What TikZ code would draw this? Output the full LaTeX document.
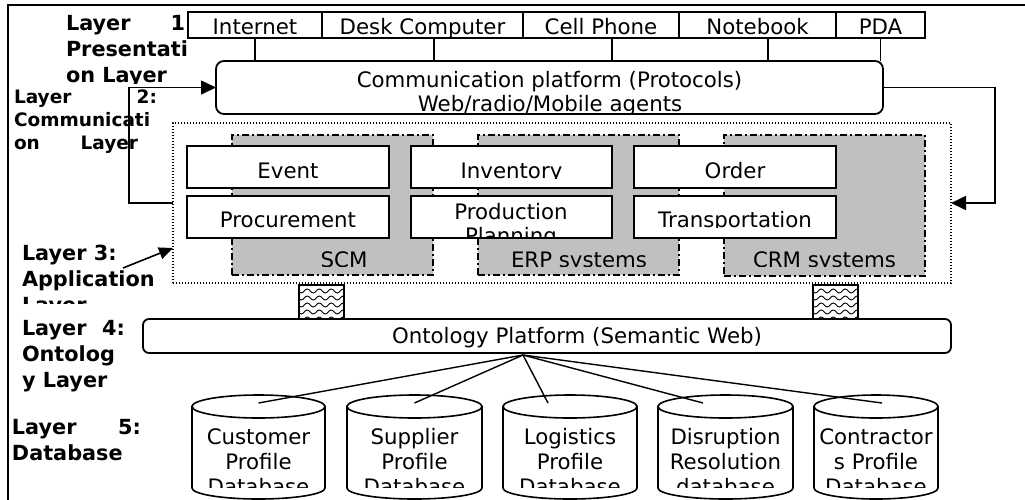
\documentclass[tikz,border=0pt]{standalone}
\usepackage{fontspec}
\setmainfont{DejaVu Sans}
\usetikzlibrary{arrows.meta,decorations.pathmorphing}
\definecolor{sysgray}{RGB}{192,192,192}

% database drum: #1 name, #2 left x, #3 right x
\newcommand\dbdrum[3]{%
  \pgfmathsetmacro\drumcx{(#2+#3)/2}%
  \pgfmathsetmacro\drumrx{(#3-#2)/2}%
  \filldraw[drum] (#2,406.5) -- (#2,488)
    arc[start angle=180, end angle=360, x radius=\drumrx pt, y radius=11pt]
    -- (#3,406.5) -- cycle;
  \filldraw[drum] (\drumcx,406.5) ellipse[x radius=\drumrx pt, y radius=11.5pt];
  \coordinate (#1) at (\drumcx,406.5);
}

\begin{document}
\begin{tikzpicture}[x=1pt,y=-1pt,
  every node/.style={inner sep=0pt, outer sep=0pt},
  txt/.style={font=\fontsize{21.3}{24}\selectfont, anchor=base},
  lbl/.style={font=\fontsize{20.8}{24}\selectfont\bfseries, anchor=base west},
  lblsmall/.style={font=\fontsize{18.5}{22}\selectfont\bfseries, anchor=base west},
  frame/.style={line width=1.5pt},
  devbox/.style={draw, line width=1.6pt, minimum height=26pt, text height=18pt, text depth=0pt,
    font=\fontsize{21.3}{24}\selectfont},
  platform/.style={draw, fill=white, line width=1.8pt},
  appzone/.style={draw, line width=1.3pt, dash pattern=on 1.3pt off 1.7pt},
  sysarea/.style={draw, fill=sysgray, line width=1.6pt, dash pattern=on 7pt off 3pt on 2pt off 3pt},
  modbox/.style={draw, fill=white, line width=1.8pt, minimum height=42pt},
  hatchbox/.style={draw, line width=1.6pt, minimum width=45pt, minimum height=35pt},
  wave/.style={line width=0.9pt, decorate, decoration={snake, amplitude=2pt, segment length=12pt}},
  link/.style={line width=1.4pt},
  arr/.style={line width=1.6pt, -{Triangle[length=15pt,width=14pt]}},
  arrsmall/.style={line width=1.6pt, -{Triangle[length=14pt,width=12pt]}},
  drum/.style={draw, fill=white, line width=1.6pt}
]
\useasboundingbox (0,0) rectangle (1025,499);

% outer frame
\draw[frame] (8,505) -- (8,5) -- (1030,5);

% ---- layer 1: access devices
\node[devbox, minimum width=134pt] (internet) at (255,25)   {Internet};
\node[devbox, minimum width=201pt] (desk)     at (422.5,25) {Desk Computer};
\node[devbox, minimum width=156pt] (cell)     at (601,25)   {Cell Phone};
\node[devbox, minimum width=157pt] (notebook) at (757.5,25) {Notebook};
\node[devbox, minimum width=89pt]  (pda)      at (880.5,25) {PDA};

% ---- layer 2: communication platform
\node[platform, rounded corners=8pt, minimum width=667pt, minimum height=53pt] (comm) at (549.5,87.5) {};
\node[txt] (commA) at (549.5,87.5) {Communication platform (Protocols)};
\begin{scope}
  \clip (216,61) rectangle (883,114);
  \node[txt] (commB) at (550,111.5) {Web/radio/Mobile agents};
\end{scope}

\draw[link] (internet.south) -- (internet.south |- comm.north);
\draw[link] ([xshift=11.5pt]desk.south) -- ([xshift=11.5pt]desk.south |- comm.north);
\draw[link] ([xshift=11pt]cell.south) -- ([xshift=11pt]cell.south |- comm.north);
\draw[link] ([xshift=10.5pt]notebook.south) -- ([xshift=10.5pt]notebook.south |- comm.north);
\draw[link] (pda.south) -- (pda.south |- comm.north);

% ---- layer 3: application systems
\node[appzone, minimum width=778pt, minimum height=160pt] (app) at (562,203) {};
\node[sysarea, minimum width=201pt, minimum height=140pt] (scm) at (332.5,205) {};
\node[sysarea, minimum width=201pt, minimum height=140pt] (erp) at (578.5,205) {};
\node[sysarea, minimum width=201pt, minimum height=141pt] (crm) at (824.5,205.5) {};

\node[modbox, minimum width=202pt] (event)   at (288,167)   {};
\node[modbox, minimum width=201pt] (invent)  at (511.5,167) {};
\node[modbox, minimum width=202pt] (order)   at (735,167)   {};
\node[modbox, minimum width=202pt] (procure) at (288,217)   {};
\node[modbox, minimum width=201pt] (product) at (511.5,217) {};
\node[modbox, minimum width=202pt] (transp)  at (735,217)   {};

\begin{scope}
  \clip (0,140) rectangle (1025,178);
  \node[txt] (eventT)  at (288,178.5)   {Event};
  \node[txt] (inventT) at (511.5,178.5) {Inventory};
  \node[txt] (orderT)  at (735,178.5)   {Order};
\end{scope}
\begin{scope}
  \clip (0,190) rectangle (1025,227);
  \node[txt] (procureT) at (288,227.5) {Procurement};
  \node[txt] (transpT)  at (735,227.5) {Transportation};
\end{scope}
\node[txt] (productT) at (511,219) {Production};
\begin{scope}
  \clip (411,190) rectangle (612,237);
  \node[txt] (planT) at (511,243) {Planning};
\end{scope}
\begin{scope}
  \clip (0,240) rectangle (1025,266);
  \node[txt] (scmT) at (344,267)   {SCM};
  \node[txt] (erpT) at (579,267)   {ERP systems};
  \node[txt] (crmT) at (824.5,267) {CRM systems};
\end{scope}

\draw[arr] (app.west) -- ++(-44,0) |- (comm.west);
\draw[arr] (comm.east) -- ++(112,0) |- (app.east);

% ---- layer 4: ontology platform
\node[hatchbox] (hatchA) at (321.5,302.5) {};
\node[hatchbox] (hatchB) at (835.5,302.5) {};
\foreach \h in {hatchA,hatchB}{
  \begin{scope}
    \clip (\h.south west) rectangle (\h.north east);
    \foreach \yy in {291,298,305,312,319}
      \draw[wave] ([xshift=-30pt]\h.center |- 0,\yy) -- ([xshift=30pt]\h.center |- 0,\yy);
  \end{scope}
  \node[hatchbox] at (\h.center) {};
}

\node[platform, rounded corners=6pt, minimum width=808pt, minimum height=34pt] (onto) at (547,336) {};
\node[txt] (ontoT) at (577,343.5) {Ontology Platform (Semantic Web)};

% ---- layer 5: databases
\dbdrum{cust}{192}{325}
\dbdrum{supp}{347}{482}
\dbdrum{logi}{503}{637}
\dbdrum{disr}{658}{793}
\dbdrum{cont}{814}{938}

\node[txt] (custA) at (258.5,444) {Customer};
\node[txt] (custB) at (258.5,469) {Profile};
\node[txt] (suppA) at (414.5,444) {Supplier};
\node[txt] (suppB) at (414.5,469) {Profile};
\node[txt] (logiA) at (570,444)   {Logistics};
\node[txt] (logiB) at (570,469)   {Profile};
\node[txt] (disrA) at (725.5,444) {Disruption};
\node[txt] (disrB) at (725.5,469) {Resolution};
\node[txt] (contA) at (876,444)   {Contractor};
\node[txt] (contB) at (876,469)   {s Profile};
\begin{scope}
  \clip (0,470) rectangle (1025,487);
  \node[txt] (custC) at (258.5,494) {Database};
  \node[txt] (suppC) at (414.5,494) {Database};
  \node[txt] (logiC) at (570,494)   {Database};
  \node[txt] (disrC) at (725.5,494) {database};
  \node[txt] (contC) at (876,494)   {Database};
\end{scope}

\coordinate (hub) at ([xshift=-24pt,yshift=-2pt]onto.south);
\draw[link] (hub) -- ([yshift=3.5pt]cust);
\draw[link] (hub) -- ([yshift=3.5pt]supp);
\draw[link] (hub) -- ([xshift=-22pt,yshift=3.5pt]logi);
\draw[link] (hub) -- ([xshift=-22.5pt,yshift=3.5pt]disr);
\draw[link] (hub) -- ([xshift=6pt,yshift=3.5pt]cont);

% ---- layer captions
\begin{scope}
  \clip (0,0) rectangle (200,83);
  \node[lbl] (l1a) at (66,30) {\hbox to 119pt{Layer\hfil 1}};
  \node[lbl] (l1b) at (66,56) {Presentati};
  \node[lbl] (l1c) at (66,82) {on Layer};
\end{scope}
\node[lblsmall] (l2a) at (14,103) {\hbox to 143pt{Layer\hfil 2:}};
\node[lblsmall] (l2b) at (14,126) {Communicati};
\node[lblsmall] (l2c) at (14,149) {\hbox to 124pt{on\hfil Layer}};

\node[lbl] (l3a) at (22,260) {Layer 3:};
\node[lbl] (l3b) at (22,286) {Application};
\begin{scope}
  \clip (0,290) rectangle (170,303);
  \node[lbl] (l3c) at (22,312) {Layer};
\end{scope}
\coordinate (l3from) at (123,268);
\draw[arrsmall] (l3from) -- ([yshift=-45pt]app.west);

\node[lbl] (l4a) at (22,335) {\hbox to 103pt{Layer\hfil 4:}};
\node[lbl] (l4b) at (22,361) {Ontolog};
\node[lbl] (l4c) at (22,387) {y Layer};

\node[lbl] (l5a) at (12,434) {\hbox to 129pt{Layer\hfil 5:}};
\node[lbl] (l5b) at (12,460) {Database};
\end{tikzpicture}
\end{document}
